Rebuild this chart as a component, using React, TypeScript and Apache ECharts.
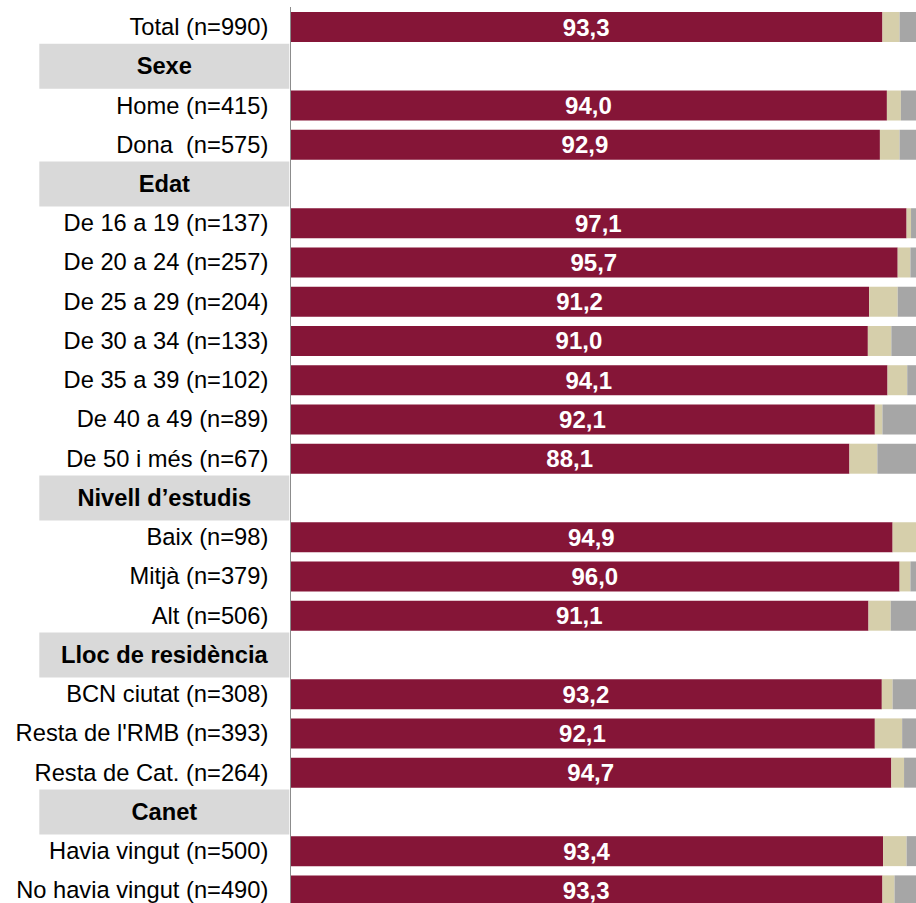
import React, { useEffect, useRef } from "react";
import * as echarts from "echarts";

const categories = [
  "Total (n=990)",
  "Sexe",
  "Home (n=415)",
  "Dona  (n=575)",
  "Edat",
  "De 16 a 19 (n=137)",
  "De 20 a 24 (n=257)",
  "De 25 a 29 (n=204)",
  "De 30 a 34 (n=133)",
  "De 35 a 39 (n=102)",
  "De 40 a 49 (n=89)",
  "De 50 i més (n=67)",
  "Nivell d’estudis",
  "Baix (n=98)",
  "Mitjà (n=379)",
  "Alt (n=506)",
  "Lloc de residència",
  "BCN ciutat (n=308)",
  "Resta de l'RMB (n=393)",
  "Resta de Cat. (n=264)",
  "Canet",
  "Havia vingut (n=500)",
  "No havia vingut (n=490)",
];

const headers = ["Sexe", "Edat", "Nivell d’estudis", "Lloc de residència", "Canet"];

const mainValues = [93.3, null, 94.0, 92.9, null, 97.1, 95.7, 91.2, 91.0, 94.1, 92.1, 88.1, null, 94.9, 96.0, 91.1, null, 93.2, 92.1, 94.7, null, 93.4, 93.3];
const beigeValues = [2.7, null, 2.2, 3.1, null, 0.7, 2.0, 4.5, 3.7, 3.1, 1.2, 4.4, null, 5.1, 1.7, 3.5, null, 1.7, 4.3, 2.0, null, 3.7, 1.9];
const grayValues = [4.0, null, 3.8, 4.0, null, 2.2, 2.3, 4.3, 5.3, 2.8, 6.7, 7.5, null, 0, 2.3, 5.4, null, 5.1, 3.6, 3.3, null, 2.9, 4.8];

const FONT = "'Liberation Sans', Arial, sans-serif";

export default function App() {
  const ref = useRef<HTMLDivElement>(null);
  useEffect(() => {
    if (!ref.current) return;
    const chart = echarts.init(ref.current, null, { renderer: "svg" });
    chart.setOption({
      animation: false,
      grid: { left: 290, right: 0, top: 7.4, bottom: 0, containLabel: false },
      xAxis: { type: "value", min: 0, max: 100, show: false },
      yAxis: [
        {
          type: "category",
          data: categories,
          inverse: true,
          axisLine: { show: true, lineStyle: { color: "#8c8c8c", width: 1 } },
          axisTick: { show: false },
          splitLine: { show: false },
          axisLabel: {
            interval: 0,
            margin: 21.7,
            fontSize: 23.7,
            color: "#000",
            fontFamily: FONT,
            formatter: (v: string) => (headers.includes(v) ? "" : v),
          },
          z: 5,
        },
        {
          type: "category",
          data: categories,
          inverse: true,
          position: "left",
          axisLine: { show: false },
          axisTick: { show: false },
          splitLine: { show: false },
          axisLabel: {
            interval: 0,
            margin: 0.7,
            formatter: (v: string) => (headers.includes(v) ? "{h|" + v + "}" : ""),
            rich: {
              h: {
                width: 250,
                height: 45,
                backgroundColor: "#d9d9d9",
                align: "center",
                verticalAlign: "middle",
                fontWeight: "bold",
                fontSize: 23.7,
                color: "#000",
                fontFamily: FONT,
              },
            },
          },
          z: 1,
        },
      ],
      series: [
        {
          type: "bar",
          stack: "s",
          data: mainValues,
          barWidth: 30,
          itemStyle: { color: "#851537" },
          label: {
            show: true,
            position: "inside",
            color: "#fff",
            fontWeight: "bold",
            fontSize: 24,
            fontFamily: FONT,
            formatter: (p: any) => (p.value == null ? "" : Number(p.value).toFixed(1).replace(".", ",")),
          },
        },
        {
          type: "bar",
          stack: "s",
          data: beigeValues,
          barWidth: 30,
          itemStyle: { color: "#d6cfab" },
        },
        {
          type: "bar",
          stack: "s",
          data: grayValues,
          barWidth: 30,
          itemStyle: { color: "#a6a6a6" },
        },
      ],
    });
    return () => chart.dispose();
  }, []);
  return (
    <div
      style={{ position: "absolute", left: 0, top: 0, width: 916, height: 903, overflow: "hidden", background: "#fff" }}
    >
      <div ref={ref} style={{ width: 924.5, height: 910.15 }} />
    </div>
  );
}
